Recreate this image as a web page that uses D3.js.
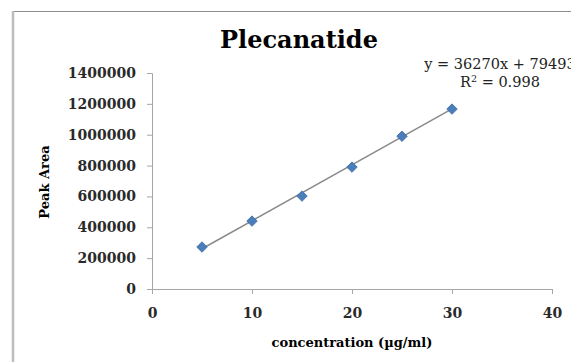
<!DOCTYPE html>
<html>
<head>
<meta charset="utf-8">
<script src="https://cdn.jsdelivr.net/npm/d3@7"></script>
<style>
  body { margin: 0; background: #fff; }
  svg { display: block; }
  text { font-family: "DejaVu Serif", serif; }
</style>
</head>
<body>
<div id="chart-area"></div>
<script>
// data
const concentration = [5, 10, 15, 20, 25, 30];
const peakArea = [272000, 440000, 602000, 790000, 990000, 1166000];
const xTicks = [0, 10, 20, 30, 40];
const yTicks = [0, 200000, 400000, 600000, 800000, 1000000, 1200000, 1400000];
// trendline as given in the chart label
const slope = 36270;
const intercept = 79493;
const rSquared = 0.998;

const margin = { left: 152, right: 19, top: 73, bottom: 73 };
const width = 571 - margin.left - margin.right;
const height = 362 - margin.top - margin.bottom;

const svg = d3.select("#chart-area")
    .append("svg")
    .attr("width", 571)
    .attr("height", 362);

// chart frame (runs off the right and bottom of the window)
svg.append("line")
    .attr("x1", 12).attr("x2", 571)
    .attr("y1", 11.5).attr("y2", 11.5)
    .attr("stroke", "#8c8c8c");
svg.append("line")
    .attr("x1", 13).attr("x2", 13)
    .attr("y1", 11).attr("y2", 362)
    .attr("stroke", "#bdbdbd")
    .attr("stroke-width", 2.5);

const g = svg.append("g")
    .attr("transform", "translate(" + margin.left + ", " + margin.top + ")");

// X Scale
const x = d3.scaleLinear()
    .domain([0, 40])
    .range([0, width]);

// Y Scale
const y = d3.scaleLinear()
    .domain([0, 1400000])
    .range([height, 0]);

// X Axis
const xAxisGroup = g.append("g")
    .attr("transform", "translate(0," + height + ")")
    .call(d3.axisBottom(x).tickValues(xTicks).tickSize(5).tickPadding(14));

// Y Axis
const yAxisGroup = g.append("g")
    .call(d3.axisLeft(y).tickValues(yTicks).tickSize(5).tickPadding(11)
        .tickFormat(d3.format("d")));

[xAxisGroup, yAxisGroup].forEach(function(ax) {
    ax.select(".domain").attr("stroke", "#a6a6a6");
    ax.selectAll(".tick line").attr("stroke", "#a6a6a6");
    ax.selectAll(".tick text")
        .attr("fill", "#2a2a2a")
        .attr("font-size", "14px")
        .attr("font-weight", "bold")
        .style("font-family", "'DejaVu Serif', serif");
});

// Title
svg.append("text")
    .attr("x", 299)
    .attr("y", 48)
    .attr("font-size", "24px")
    .attr("font-weight", "bold")
    .attr("text-anchor", "middle")
    .text("Plecanatide");

// X Label
svg.append("text")
    .attr("x", 352)
    .attr("y", 347)
    .attr("font-size", "13px")
    .attr("font-weight", "bold")
    .attr("text-anchor", "middle")
    .text("concentration (µg/ml)");

// Y Label
svg.append("text")
    .attr("transform", "translate(49,182) rotate(-90)")
    .attr("font-size", "13px")
    .attr("font-weight", "bold")
    .attr("text-anchor", "middle")
    .text("Peak Area");

// Trendline
const xMin = d3.min(concentration), xMax = d3.max(concentration);
g.append("line")
    .attr("x1", x(xMin)).attr("y1", y(slope * xMin + intercept))
    .attr("x2", x(xMax)).attr("y2", y(slope * xMax + intercept))
    .attr("stroke", "#8a8a8a")
    .attr("stroke-width", 1.5);

// Points
const diamond = d3.symbol().type(d3.symbolDiamond2).size(70);
g.selectAll("path.pt")
    .data(concentration)
    .enter()
    .append("path")
    .attr("class", "pt")
    .attr("d", diamond)
    .attr("transform", function(d, i) {
        return "translate(" + x(d) + "," + y(peakArea[i]) + ")";
    })
    .attr("fill", "#4a7ebb")
    .attr("stroke", "#3b6aa3")
    .attr("stroke-width", 0.8);

// Equation label (runs past the right edge, as in the original)
svg.append("text")
    .attr("x", 500).attr("y", 69)
    .attr("text-anchor", "middle")
    .attr("font-size", "14.5px")
    .attr("fill", "#222")
    .text("y = " + slope + "x + " + intercept);
const r2 = svg.append("text")
    .attr("x", 500).attr("y", 87)
    .attr("text-anchor", "middle")
    .attr("font-size", "14.5px")
    .attr("fill", "#222");
r2.append("tspan").text("R");
r2.append("tspan").attr("dy", -5).attr("font-size", "9.5px").text("2");
r2.append("tspan").attr("dy", 5).text(" = " + rSquared);
</script>
</body>
</html>
